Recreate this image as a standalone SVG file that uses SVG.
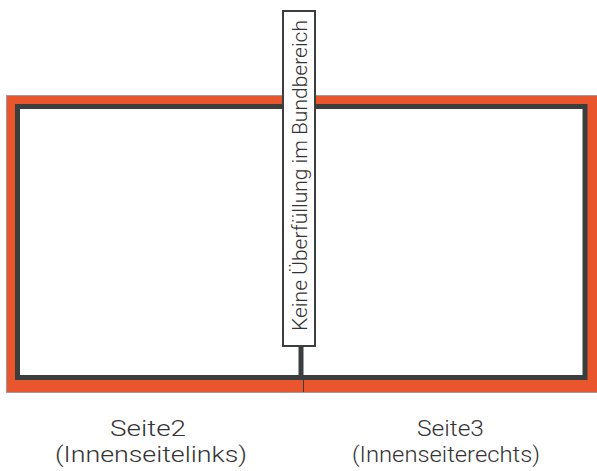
<svg xmlns="http://www.w3.org/2000/svg" width="597" height="471" viewBox="0 0 597 471">
<style>
.page{fill:#E9552D;stroke:#9c9c9c;stroke-width:1}
.inner{fill:#ffffff;stroke:#3a3e3f;stroke-width:5}
.lbl{font-family:Roboto,"Liberation Sans",sans-serif;font-weight:300;fill:#333333}
.cap{font-size:22px}
.box{fill:#ffffff;stroke:#3a3e3f;stroke-width:2}
.conn{stroke:#3a3e3f;fill:none}
</style>
<rect width="597" height="471" fill="#ffffff"/>
<g id="pages">
<rect class="page" x="6.5" y="95.5" width="593" height="297"/>
<rect class="inner" x="17.5" y="106.5" width="567.5" height="271"/>
</g>
<g id="connectors">
<line class="conn" x1="301" y1="346" x2="301" y2="378" stroke-width="5"/>
<line class="conn" x1="303.5" y1="380" x2="303.5" y2="392" stroke-width="1"/>
</g>
<g id="spine-label">
<rect class="box" x="283" y="11" width="32" height="335"/>
<text class="lbl" font-size="20" text-anchor="middle" textLength="311" lengthAdjust="spacingAndGlyphs" transform="translate(307.3,175.5) rotate(-90)">Keine Überfüllung im Bundbereich</text>
</g>
<g id="seite2">
<text class="lbl cap" text-anchor="middle" x="148" y="436" textLength="76" lengthAdjust="spacingAndGlyphs">Seite2</text>
<text class="lbl cap" text-anchor="middle" x="151" y="462" textLength="192" lengthAdjust="spacingAndGlyphs">(Innenseitelinks)</text>
</g>
<g id="seite3">
<text class="lbl cap" text-anchor="middle" x="450.5" y="436" textLength="67" lengthAdjust="spacingAndGlyphs">Seite3</text>
<text class="lbl cap" text-anchor="middle" x="446" y="462" textLength="188" lengthAdjust="spacingAndGlyphs">(Innenseiterechts)</text>
</g>
</svg>
